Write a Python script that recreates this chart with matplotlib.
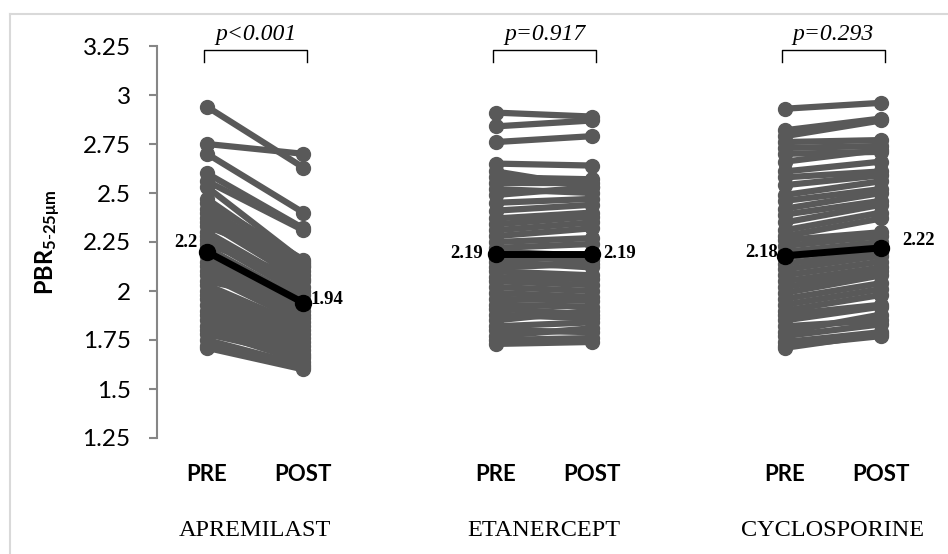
import numpy as np
import matplotlib
matplotlib.use('Agg')
import matplotlib.pyplot as plt
from matplotlib.lines import Line2D

# Data
groups = ['APREMILAST', 'ETANERCEPT', 'CYCLOSPORINE']
p_labels = ['p<0.001', 'p=0.917', 'p=0.293']

apremilast_pre = [2.94, 2.75, 2.70, 2.60, 2.56, 2.53, 2.47, 2.45, 2.42, 2.40, 2.37, 2.35,
                  2.33, 2.30, 2.28, 2.26, 2.24, 2.22, 2.18, 2.15, 2.13, 2.10, 2.08, 2.05,
                  2.03, 2.00, 1.98, 1.96, 1.93, 1.90, 1.88, 1.85, 1.82, 1.80, 1.78, 1.75,
                  1.72, 1.71]
apremilast_post = [2.63, 2.70, 2.40, 2.32, 2.31, 2.15, 2.13, 2.16, 2.12, 2.10, 2.08, 2.05,
                   2.14, 2.02, 2.00, 1.98, 2.06, 1.95, 1.92, 1.90, 1.88, 1.86, 1.84, 1.95,
                   1.82, 1.80, 1.78, 1.76, 1.74, 1.72, 1.70, 1.68, 1.66, 1.64, 1.67, 1.62,
                   1.61, 1.60]

etanercept_pre = [2.91, 2.84, 2.76, 2.65, 2.61, 2.58, 2.55, 2.52, 2.49, 2.45, 2.41, 2.37,
                  2.34, 2.31, 2.28, 2.25, 2.22, 2.20, 2.17, 2.15, 2.12, 2.10, 2.07, 2.05,
                  2.02, 1.99, 1.96, 1.93, 1.91, 1.88, 1.85, 1.82, 1.80, 1.77, 1.75, 1.73]
etanercept_post = [2.89, 2.87, 2.79, 2.64, 2.53, 2.57, 2.55, 2.50, 2.53, 2.47, 2.44, 2.40,
                   2.38, 2.35, 2.32, 2.27, 2.24, 2.18, 2.16, 2.12, 2.14, 2.08, 2.06, 2.03,
                   2.00, 1.97, 1.95, 1.92, 1.88, 1.86, 1.90, 1.84, 1.79, 1.81, 1.76, 1.74]

cyclosporine_pre = [2.93, 2.82, 2.79, 2.76, 2.73, 2.70, 2.66, 2.61, 2.58, 2.54, 2.49, 2.46,
                    2.42, 2.39, 2.35, 2.31, 2.28, 2.26, 2.23, 2.20, 2.17, 2.14, 2.11, 2.08,
                    2.05, 2.02, 1.99, 1.96, 1.93, 1.90, 1.88, 1.85, 1.82, 1.79, 1.77, 1.74,
                    1.72, 1.71]
cyclosporine_post = [2.96, 2.88, 2.87, 2.77, 2.74, 2.71, 2.72, 2.66, 2.61, 2.59, 2.56, 2.52,
                     2.50, 2.46, 2.44, 2.40, 2.37, 2.30, 2.28, 2.25, 2.23, 2.20, 2.18, 2.15,
                     2.12, 2.10, 2.08, 2.04, 2.01, 1.98, 1.93, 1.92, 1.85, 1.88, 1.83, 1.79,
                     1.77, 1.78]

mean_pre = [2.20, 2.19, 2.18]
mean_post = [1.94, 2.19, 2.22]
mean_pre_txt = ['2.2', '2.19', '2.18']
mean_post_txt = ['1.94', '2.19', '2.22']

# faint green lines peeking through the gaps
green_pre = [2.41, 2.13, 2.27]
green_post = [2.12, 2.13, 2.25]

pre_all = [apremilast_pre, etanercept_pre, cyclosporine_pre]
post_all = [apremilast_post, etanercept_post, cyclosporine_post]

x_pre = [1, 4, 7]
x_post = [2, 5, 8]

GRAY = '#595959'
sans = 'Lato'
serif = 'Liberation Serif'

plt.rcParams['mathtext.fontset'] = 'custom'
plt.rcParams['mathtext.bf'] = 'Lato:bold'
plt.rcParams['mathtext.rm'] = 'Lato'

fig = plt.figure(figsize=(9.48, 5.54), dpi=100)
ax = fig.add_axes([157 / 948, 116 / 554, (948 - 157) / 948, 392 / 554])

for i in range(3):
    xs = [x_pre[i], x_post[i]]
    # green lines underneath
    ax.plot(xs, [green_pre[i], green_post[i]], color='#4e7f2a', lw=1.2, zorder=1)
    for a, b in zip(pre_all[i], post_all[i]):
        ax.plot(xs, [a, b], color=GRAY, lw=4.5, marker='o', ms=10,
                solid_capstyle='round', zorder=2)
    # mean line
    ax.plot(xs, [mean_pre[i], mean_post[i]], color='black', lw=5, marker='o',
            ms=11.5, zorder=3)

# mean labels
label_offsets_pre = [(-7, 7), (-9, 0), (-5, 2)]
label_offsets_post = [(5, 2), (8, 0), (15, 5)]
for i in range(3):
    ax.annotate(mean_pre_txt[i], (x_pre[i], mean_pre[i]), xytext=label_offsets_pre[i],
                textcoords='offset points', ha='right', va='center',
                fontfamily=serif, fontweight='bold', fontsize=13.5)
    ax.annotate(mean_post_txt[i], (x_post[i], mean_post[i]), xytext=label_offsets_post[i],
                textcoords='offset points', ha='left', va='center',
                fontfamily=serif, fontweight='bold', fontsize=13.5)

# p-value brackets
for i in range(3):
    x0 = x_pre[i] - 0.03
    x1 = x_post[i] + 0.04
    ax.plot([x0, x0, x1, x1], [3.17, 3.23, 3.23, 3.17], color='black', lw=1,
            clip_on=False, zorder=4)
    ax.text((x0 + x1) / 2, 3.31, p_labels[i], ha='center', va='center',
            fontfamily=serif, fontstyle='italic', fontsize=17)

# group names
for i in range(3):
    ax.text((x_pre[i] + x_post[i]) / 2, -0.235, groups[i], transform=ax.get_xaxis_transform(),
            ha='center', va='center', fontfamily=serif, fontsize=17.5)

# Formatting
ax.set_xlim(1 - 50 / 96.3, 1 + (948 - 207) / 96.3)
ax.set_ylim(1.25, 3.25)
yt = [1.25, 1.5, 1.75, 2, 2.25, 2.5, 2.75, 3, 3.25]
ax.set_yticks(yt)
ax.set_yticklabels(['1.25', '1.5', '1.75', '2', '2.25', '2.5', '2.75', '3', '3.25'],
                   fontfamily=sans, fontsize=17.5)
ax.set_xticks(x_pre + x_post)
ax.set_xticklabels(['PRE'] * 3 + ['POST'] * 3, fontfamily=sans, fontweight='bold', fontsize=16)
ax.tick_params(axis='x', length=0, pad=19)
ax.tick_params(axis='y', length=6, width=1.5, color='#868686', pad=13)
for s in ['top', 'right', 'bottom']:
    ax.spines[s].set_visible(False)
ax.spines['left'].set_color('#868686')
ax.spines['left'].set_linewidth(1.5)

ax.set_ylabel(r'$\mathbf{PBR_{5\text{-}25μm}}$', fontsize=17, labelpad=14)

# light frame around the figure
fig.add_artist(Line2D([10 / 948, 1], [1 - 14 / 554, 1 - 14 / 554], color='#d9d9d9', lw=1.5))
fig.add_artist(Line2D([10 / 948, 10 / 948], [0, 1 - 14 / 554], color='#d9d9d9', lw=1.5))

fig.savefig('out.png', dpi=100)
plt.close()
